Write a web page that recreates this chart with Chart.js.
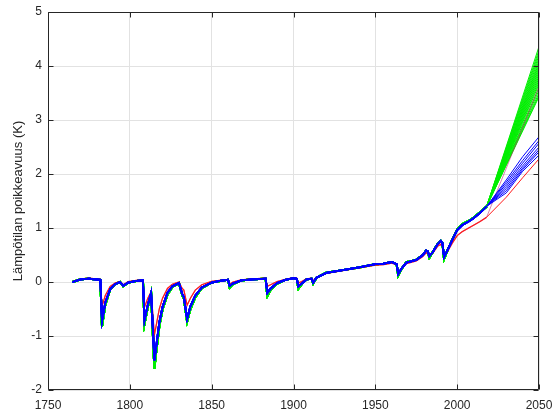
<!DOCTYPE html>
<html>
<head>
<meta charset="utf-8">
<script src="https://cdn.jsdelivr.net/npm/chart.js@4/dist/chart.umd.min.js"></script>
<style>
    html, body { margin: 0; padding: 0; background: #ffffff; }
    #wrap { width: 554px; height: 417px; }
</style>
</head>
<body>
<div id="wrap"><canvas id="chart" width="554" height="417"></canvas></div>
<script>

/* =========================
   DATA
========================= */

const histYears = [
    1765, 1770, 1775, 1782, 1783, 1785, 1788, 1791, 1794, 1796,
    1799, 1804, 1808, 1809, 1811, 1813, 1815, 1816, 1818, 1820,
    1823, 1826, 1830, 1832, 1833, 1835, 1837, 1840, 1844, 1850,
    1855, 1860, 1861, 1863, 1868, 1875, 1883, 1884, 1886, 1890,
    1895, 1900, 1902, 1903, 1905, 1908, 1911, 1912, 1914, 1920,
    1930, 1940, 1950, 1955, 1960, 1963, 1964, 1966, 1969, 1975,
    1979, 1981, 1982, 1983, 1985, 1988, 1990, 1991, 1992, 1994,
    1997, 2000, 2003, 2007, 2010, 2014, 2018
];

const blueHist = [
    0.00, 0.05, 0.06, 0.04, -0.72, -0.38, -0.13, -0.04, 0.00, -0.07,
    -0.01, 0.02, 0.03, -0.70, -0.42, -0.20, -1.45, -1.22, -0.75, -0.46,
    -0.20, -0.08, -0.02, -0.22, -0.28, -0.68, -0.45, -0.25, -0.10, -0.01,
    0.02, 0.04, -0.07, -0.03, 0.03, 0.05, 0.06, -0.20, -0.12, -0.02,
    0.04, 0.07, 0.06, -0.08, -0.03, 0.05, 0.06, -0.01, 0.08, 0.17,
    0.22, 0.27, 0.33, 0.34, 0.37, 0.33, 0.15, 0.25, 0.36, 0.41,
    0.50, 0.58, 0.57, 0.48, 0.55, 0.70, 0.76, 0.72, 0.46, 0.58,
    0.78, 0.96, 1.05, 1.12, 1.18, 1.28, 1.40
];

const greenHist = [
    0.00, 0.05, 0.06, 0.04, -0.82, -0.42, -0.14, -0.04, 0.00, -0.08,
    -0.01, 0.02, 0.03, -0.77, -0.46, -0.21, -1.60, -1.32, -0.82, -0.50,
    -0.23, -0.09, -0.02, -0.24, -0.30, -0.73, -0.50, -0.28, -0.11, -0.01,
    0.02, 0.04, -0.10, -0.04, 0.03, 0.05, 0.06, -0.26, -0.15, -0.03,
    0.04, 0.07, 0.06, -0.12, -0.04, 0.05, 0.06, -0.03, 0.08, 0.17,
    0.22, 0.27, 0.33, 0.34, 0.37, 0.33, 0.12, 0.24, 0.37, 0.41,
    0.50, 0.58, 0.57, 0.45, 0.55, 0.70, 0.76, 0.72, 0.43, 0.58,
    0.78, 0.97, 1.07, 1.13, 1.19, 1.29, 1.40
];

const redHist = [
    0.01, 0.06, 0.07, 0.05, -0.45, -0.25, -0.08, -0.02, 0.01, -0.05,
    0.01, 0.03, 0.04, -0.46, -0.30, -0.18, -0.98, -0.82, -0.50, -0.30,
    -0.12, -0.04, 0.00, -0.12, -0.15, -0.43, -0.30, -0.15, -0.05, 0.01,
    0.03, 0.05, -0.04, 0.00, 0.04, 0.06, 0.07, -0.08, -0.05, 0.01,
    0.05, 0.08, 0.07, -0.02, 0.01, 0.06, 0.07, 0.02, 0.09, 0.16,
    0.21, 0.26, 0.31, 0.32, 0.35, 0.32, 0.18, 0.25, 0.34, 0.39,
    0.47, 0.54, 0.53, 0.50, 0.53, 0.66, 0.70, 0.67, 0.50, 0.56,
    0.72, 0.86, 0.93, 1.00, 1.05, 1.12, 1.20
];

// projections
const projYears = [2030, 2040, 2050];

const blueProj = [
    [1.89, 2.32, 2.69],
    [1.85, 2.25, 2.62],
    [1.81, 2.20, 2.57],
    [1.77, 2.15, 2.50],
    [1.73, 2.11, 2.45],
    [1.69, 2.08, 2.41],
    [1.65, 2.05, 2.35]
];

const redProj = [1.57, 1.93, 2.28];
const redHighEnd = 3.62;

const greenEnds = [
    4.36, 4.30, 4.25, 4.20, 4.15, 4.10, 4.06, 4.02, 3.98, 3.94, 3.90,
    3.86, 3.82, 3.78, 3.74, 3.70, 3.66, 3.60, 3.55, 3.50, 3.46, 3.43
];

const xTicks = [1750, 1800, 1850, 1900, 1950, 2000, 2050];
const yTicks = [-2, -1, 0, 1, 2, 3, 4, 5];

/* =========================
   BUILD DATASETS
========================= */

const LAST_HIST = histYears[histYears.length - 1];

function historyPoints(values) {
    return histYears.map((x, i) => ({ x, y: values[i] }));
}

function lineSet(points, color, histWidth) {
    return {
        data: points,
        borderColor: color,
        borderWidth: 1,
        pointRadius: 0,
        tension: 0,
        fill: false,
        segment: {
            borderWidth: ctx => ctx.p0.parsed.x < LAST_HIST ? histWidth : 1
        }
    };
}

const datasets = [];

// blue (drawn on top)
blueProj.forEach(vals => {
    datasets.push(lineSet(
        historyPoints(blueHist).concat(projYears.map((x, i) => ({ x, y: vals[i] }))),
        '#0000ff', 1.8
    ));
});

// red
datasets.push(lineSet(
    historyPoints(redHist).concat(projYears.map((x, i) => ({ x, y: redProj[i] }))),
    '#ff1a1a', 1.2
));

datasets.push(lineSet(
    historyPoints(redHist).concat([{ x: 2050, y: redHighEnd }]),
    'rgba(190, 30, 110, 0.55)', 1.2
));

// green (drawn underneath)
greenEnds.forEach(end => {
    datasets.push(lineSet(
        historyPoints(greenHist).concat([{ x: 2050, y: end }]),
        '#00ee00', 2
    ));
});

/* =========================
   FRAME + INWARD TICKS
========================= */

const framePlugin = {
    id: 'frame',
    afterDraw(chart) {
        const { ctx, chartArea: a, scales } = chart;
        const L = Math.round(a.left) + 0.5;
        const R = Math.round(a.right) - 0.5;
        const T = Math.round(a.top) + 0.5;
        const B = Math.round(a.bottom) - 0.5;

        ctx.save();
        ctx.strokeStyle = '#262626';
        ctx.lineWidth = 1;
        ctx.beginPath();
        ctx.rect(L, T, R - L, B - T);

        xTicks.forEach(v => {
            const px = Math.round(scales.x.getPixelForValue(v)) + 0.5;
            ctx.moveTo(px, B); ctx.lineTo(px, B - 5);
            ctx.moveTo(px, T); ctx.lineTo(px, T + 5);
        });

        yTicks.forEach(v => {
            const py = Math.round(scales.y.getPixelForValue(v)) + 0.5;
            ctx.moveTo(L, py); ctx.lineTo(L + 5, py);
            ctx.moveTo(R, py); ctx.lineTo(R - 5, py);
        });

        ctx.stroke();
        ctx.restore();
    }
};

/* =========================
   CHART
========================= */

const tickFont = { family: 'Liberation Sans, Arial, sans-serif', size: 12 };

new Chart(document.getElementById('chart').getContext('2d'), {
    type: 'line',
    data: { datasets },
    options: {
        responsive: false,
        animation: false,
        events: [],
        layout: {
            padding: { top: 12, right: 15, left: 0, bottom: 0 }
        },
        plugins: {
            legend: { display: false },
            tooltip: { enabled: false }
        },
        scales: {
            x: {
                type: 'linear',
                min: 1750,
                max: 2050,
                afterBuildTicks: scale => {
                    scale.ticks = xTicks.map(value => ({ value }));
                },
                afterFit: scale => {
                    scale.height = 27;
                    scale.paddingLeft = 0;
                    scale.paddingRight = 0;
                },
                ticks: {
                    color: '#262626',
                    font: tickFont,
                    padding: 8,
                    maxRotation: 0,
                    callback: v => String(v)
                },
                grid: { color: '#e2e2e2', drawTicks: false },
                border: { display: false }
            },
            y: {
                type: 'linear',
                min: -2,
                max: 5,
                afterBuildTicks: scale => {
                    scale.ticks = yTicks.map(value => ({ value }));
                },
                afterFit: scale => {
                    scale.width = 48;
                    scale.paddingTop = 0;
                    scale.paddingBottom = 0;
                },
                ticks: {
                    color: '#262626',
                    font: tickFont,
                    padding: 6,
                    callback: v => String(v)
                },
                grid: { color: '#e2e2e2', drawTicks: false },
                border: { display: false },
                title: {
                    display: true,
                    text: 'Lämpötilan poikkeavuus (K)',
                    color: '#262626',
                    font: { family: 'Liberation Sans, Arial, sans-serif', size: 13 },
                    padding: { top: 11, bottom: 0 }
                }
            }
        }
    },
    plugins: [framePlugin]
});
</script>
</body>
</html>
